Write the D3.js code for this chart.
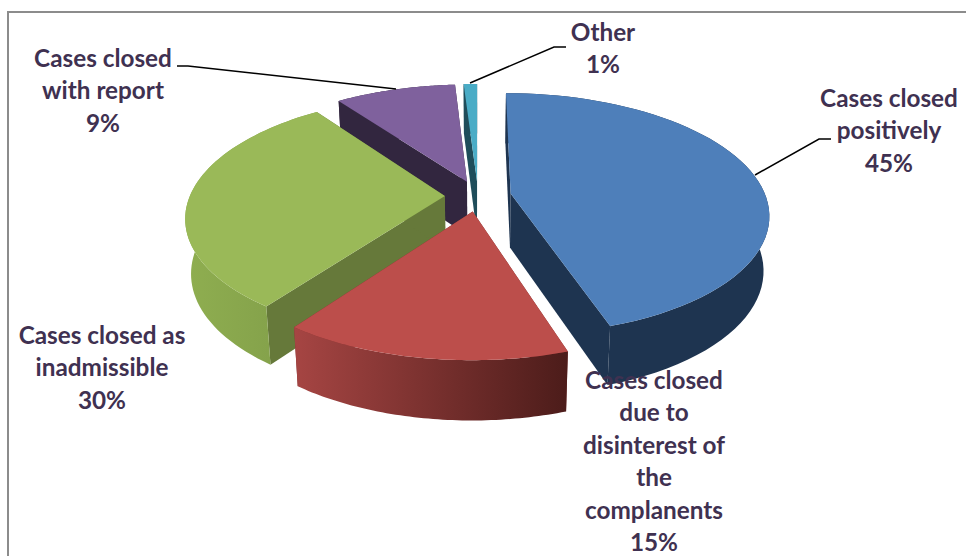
<!DOCTYPE html>
<html lang="en">

<head>
  <meta charset="UTF-8">
  <title>Cases closed</title>
  <script src="https://d3js.org/d3.v7.min.js"></script>
  <style>
    body { margin: 0; background: #fff; }
    svg { display: block; }
    text { font-family: Lato, "Open Sans", sans-serif; font-weight: 700; font-size: 24.3px; fill: #3f3151; text-anchor: middle; }
  </style>
</head>

<body>
  <svg width="966" height="556"></svg>
</body>

<script>
  // data
  const categories = ["Cases closed positively", "Cases closed due to disinterest of the complanents", "Cases closed as inadmissible", "Cases closed with report", "Other"];
  const values = [45, 15, 30, 9, 1];
  const labelLines = [
    ["Cases closed", "positively"],
    ["Cases closed", "due to", "disinterest of", "the", "complanents"],
    ["Cases closed as", "inadmissible"],
    ["Cases closed", "with report"],
    ["Other"]
  ];

  // styles, same order as the categories
  const topColors = ["#4e7fba", "#bc4e4b", "#9ab958", "#7f619d", "#4aacc6"];
  const edgeColors = ["#1e3450", "#7a2f2d", "#66793a", "#32263f", "#1f4d5a"];
  const outerStops = [
    ["#1e3450", "#1e3450"],
    ["#a64543", "#4c1c1a"],
    ["#8fae50", "#7f9c48"],
    ["#32263f", "#32263f"],
    ["#1f4d5a", "#1f4d5a"]
  ];
  const labelCenter = [889, 654, 102, 103, 603];
  const labelTop = [107, 389, 344, 67, 41];
  const lineStep = 32.4;
  const leaders = [
    [[831, 139], [819, 139], [755, 175]],
    null,
    null,
    [[177, 66], [188, 66], [396, 89]],
    [[566, 47], [554, 47], [470, 83]]
  ];
  const drawOrder = [3, 4, 2, 0, 1];

  const svg = d3.select("svg");

  // perspective set up for the tilted pie
  const cx = 478, cy = 196;
  const R = 255, flat = 118, persp = 0.1675;
  const explode = 0.13, depth = 54, taper = 0.02;

  function project(u, v, z) {
    const w = 1 - persp * v;
    return [
      cx + R * u / w * (1 - z * taper),
      cy + flat * v / w + z * depth * (1 + (1 / w - 1) * 0.5)
    ];
  }

  const pie = d3.pie().sort(null);
  const slices = pie(values);
  const line = d3.line();

  // frame
  svg.append("path")
    .attr("d", "M8,556V12H966")
    .attr("fill", "none")
    .attr("stroke", "#8c8c8c")
    .attr("stroke-width", 2);

  const defs = svg.append("defs");
  outerStops.forEach((stops, i) => {
    const grad = defs.append("linearGradient").attr("id", "outer" + i);
    grad.append("stop").attr("offset", 0).attr("stop-color", stops[0]);
    grad.append("stop").attr("offset", 1).attr("stop-color", stops[1]);
  });

  const angleSteps = s => d3.range(0, 61).map(i => s.startAngle + (s.endAngle - s.startAngle) * i / 60);

  drawOrder.forEach(i => {
    const s = slices[i];
    const mid = (s.startAngle + s.endAngle) / 2;
    const ou = explode * Math.sin(mid), ov = -explode * Math.cos(mid);
    const rim = (a, z) => project(ou + Math.sin(a), ov - Math.cos(a), z);
    const apex = z => project(ou, ov, z);
    const g = svg.append("g").attr("class", "slice").attr("data-name", categories[i]);

    // flat side walls at both cut edges
    [s.startAngle, s.endAngle].forEach(a => {
      g.append("path")
        .attr("d", line([apex(0), rim(a, 0), rim(a, 1), apex(1)]) + "Z")
        .attr("fill", edgeColors[i]);
    });

    // curved wall
    const steps = angleSteps(s);
    const wall = steps.map(a => rim(a, 0)).concat(steps.slice().reverse().map(a => rim(a, 1)));
    g.append("path")
      .attr("d", line(wall) + "Z")
      .attr("fill", "url(#outer" + i + ")");

    // top face
    const top = [apex(0)].concat(steps.map(a => rim(a, 0)));
    g.append("path")
      .attr("d", line(top) + "Z")
      .attr("fill", topColors[i]);
  });

  // leader lines
  leaders.forEach(pts => {
    if (!pts) return;
    svg.append("path")
      .attr("d", line(pts))
      .attr("fill", "none")
      .attr("stroke", "#000")
      .attr("stroke-width", 1.5);
  });

  // labels
  labelLines.forEach((lines, i) => {
    const text = svg.append("text");
    lines.concat(values[i] + "%").forEach((t, j) => {
      text.append("tspan")
        .attr("x", labelCenter[i])
        .attr("y", labelTop[i] + j * lineStep)
        .text(t);
    });
  });
</script>

</html>
